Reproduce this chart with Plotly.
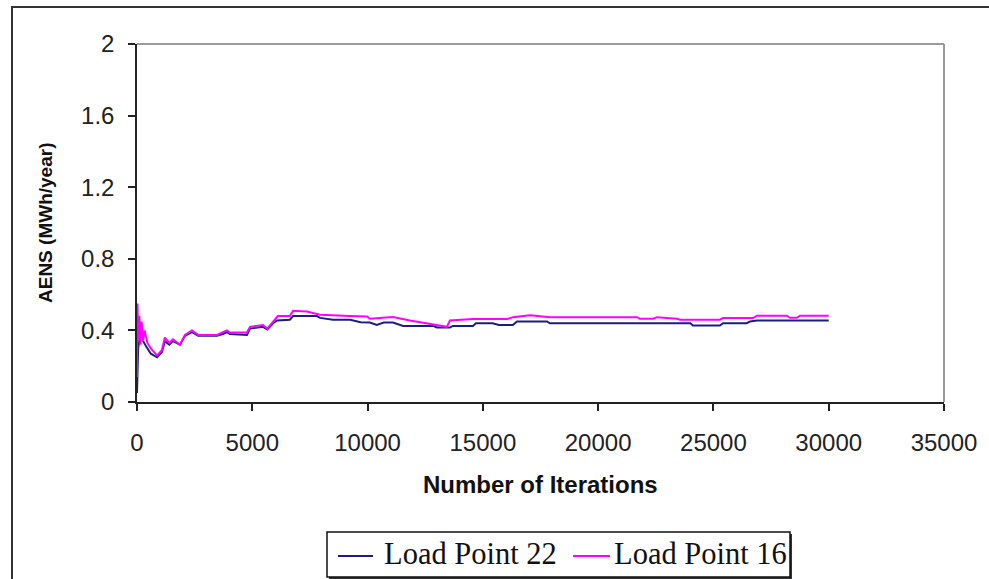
import plotly.graph_objects as go

# Load Point 22 (blue) - running AENS estimate vs number of iterations
lp22_iter = [0, 15, 50, 120, 220, 400, 600, 870, 1080, 1210, 1400, 1560, 1865, 2080, 2385,
             2650, 3470, 3730, 3900, 4030, 4770, 4900, 5460, 5650, 5900, 6070, 6630, 6770,
             7800, 7940, 8500, 9240, 9700, 10100, 10400, 10700, 11100, 11540, 12840, 13010,
             13570, 13700, 14570, 14700, 15420, 15700, 16300, 16480, 17780, 17910, 24000,
             24110, 25280, 25420, 26450, 26590, 26890, 30000]
lp22_aens = [0.05, 0.22, 0.30, 0.36, 0.35, 0.31, 0.27, 0.25, 0.28, 0.34, 0.32, 0.34, 0.32, 0.37,
             0.39, 0.37, 0.37, 0.38, 0.39, 0.38, 0.375, 0.41, 0.42, 0.405, 0.44, 0.455, 0.46,
             0.48, 0.48, 0.47, 0.46, 0.46, 0.446, 0.444, 0.43, 0.444, 0.444, 0.425, 0.425,
             0.416, 0.416, 0.425, 0.425, 0.44, 0.44, 0.43, 0.43, 0.45, 0.45, 0.44, 0.44,
             0.427, 0.427, 0.44, 0.44, 0.45, 0.455, 0.455]

# Load Point 16 (magenta)
lp16_iter = [0, 20, 60, 100, 150, 200, 260, 330, 450, 600, 870, 1080, 1210, 1400, 1560, 1865,
             2080, 2385, 2650, 3470, 3730, 3900, 4030, 4770, 4900, 5460, 5650, 5900, 6110,
             6630, 6770, 7370, 7940, 9240, 9980, 10100, 10840, 11100, 11840, 12620, 13440,
             13570, 14570, 16050, 16310, 17050, 17910, 21690, 21820, 22380, 22550, 23420,
             23550, 25280, 25420, 26720, 26890, 28190, 28320, 28620, 28750, 30000]
lp16_aens = [0.14, 0.55, 0.35, 0.48, 0.32, 0.45, 0.34, 0.40, 0.33, 0.30, 0.26, 0.29, 0.36, 0.33,
             0.35, 0.32, 0.375, 0.40, 0.375, 0.375, 0.39, 0.40, 0.388, 0.388, 0.42, 0.43, 0.41,
             0.45, 0.48, 0.48, 0.51, 0.505, 0.487, 0.48, 0.478, 0.465, 0.475, 0.475, 0.455,
             0.437, 0.42, 0.455, 0.463, 0.463, 0.474, 0.484, 0.474, 0.474, 0.465, 0.465,
             0.474, 0.465, 0.46, 0.46, 0.469, 0.469, 0.482, 0.482, 0.47, 0.47, 0.482, 0.482]

series_names = ["Load Point 22", "Load Point 16"]
series_colors = ["#1c1c86", "#ff00ff"]
x_ticks = [0, 5000, 10000, 15000, 20000, 25000, 30000, 35000]
x_ticklabels = ["0", "5000", "10000", "15000", "20000", "25000", "30000", "35000"]
y_ticks = [0, 0.4, 0.8, 1.2, 1.6, 2]
y_ticklabels = ["0", "0.4", "0.8", "1.2", "1.6", "2"]
x_title = "Number of Iterations"
y_title = "AENS (MWh/year)"

SANS = "Arial, Liberation Sans, sans-serif"
SERIF = "Times New Roman, Liberation Serif, serif"

fig = go.Figure()
fig.add_trace(go.Scatter(x=lp22_iter, y=lp22_aens, mode="lines", name=series_names[0],
                         line=dict(color=series_colors[0], width=2)))
fig.add_trace(go.Scatter(x=lp16_iter, y=lp16_aens, mode="lines", name=series_names[1],
                         line=dict(color=series_colors[1], width=2)))

L, R, T, B = 137, 944, 44, 402
W, H = 989, 579

def px_x(p):
    return (p - L) / (R - L)

def px_y(p):
    return (B - p) / (B - T)

# legend layout (boxed, below the x-axis title)
LG_X0, LG_X1, LG_Y0, LG_Y1 = 327, 790, 532, 577
key_spans = [(338, 373), (573, 610)]
label_x = [382, 612]
key_y = 556
label_y = 554

shapes = [
    # plot area border (top/right grey)
    dict(type="line", xref="paper", yref="paper", x0=0, x1=1, y0=1, y1=1,
         line=dict(color="#9a9a9a", width=2)),
    dict(type="line", xref="paper", yref="paper", x0=1, x1=1, y0=0, y1=1,
         line=dict(color="#9a9a9a", width=2)),
    # outer chart border (partially cropped)
    dict(type="rect", xref="paper", yref="paper", x0=px_x(12), x1=px_x(1010),
         y0=px_y(600), y1=px_y(7), line=dict(color="#333", width=2)),
    # legend shadow + box
    dict(type="rect", xref="paper", yref="paper", x0=px_x(LG_X0 + 2), x1=px_x(LG_X1 + 2),
         y0=px_y(LG_Y1 + 2), y1=px_y(LG_Y0 + 2), line=dict(width=0), fillcolor="#333"),
    dict(type="rect", xref="paper", yref="paper", x0=px_x(LG_X0), x1=px_x(LG_X1),
         y0=px_y(LG_Y1), y1=px_y(LG_Y0), line=dict(color="#111", width=1.5),
         fillcolor="white"),
]
annotations = [
    dict(text="<b>" + x_title + "</b>", xref="paper", yref="paper", x=0.5, y=px_y(484),
         xanchor="center", yanchor="middle", showarrow=False,
         font=dict(family=SANS, size=24, color="#111")),
    dict(text="<b>" + y_title + "</b>", xref="paper", yref="paper", x=px_x(45), y=0.5,
         xanchor="center", yanchor="middle", showarrow=False, textangle=-90,
         font=dict(family=SANS, size=19, color="#111")),
]
for name, color, (k0, k1), lx in zip(series_names, series_colors, key_spans, label_x):
    shapes.append(dict(type="line", xref="paper", yref="paper", x0=px_x(k0), x1=px_x(k1),
                       y0=px_y(key_y), y1=px_y(key_y), line=dict(color=color, width=2)))
    annotations.append(dict(text=name, xref="paper", yref="paper", x=px_x(lx), y=px_y(label_y),
                            xanchor="left", yanchor="middle", showarrow=False,
                            font=dict(family=SERIF, size=30.5, color="#111")))

fig.update_layout(
    width=W, height=H,
    margin=dict(l=L, r=W - R, t=T, b=H - B, pad=0, autoexpand=False),
    paper_bgcolor="white", plot_bgcolor="white",
    showlegend=False,
    xaxis=dict(range=[0, 35000], tickvals=x_ticks, ticktext=x_ticklabels, ticks="outside",
               ticklen=7, tickwidth=1.5, tickcolor="#222", showline=True, linecolor="#222",
               linewidth=1.5, showgrid=False, zeroline=False, ticklabelstandoff=11,
               automargin=False, tickfont=dict(family=SANS, size=24, color="#222")),
    yaxis=dict(range=[0, 2], tickvals=y_ticks, ticktext=y_ticklabels,
               ticks="outside", ticklen=7, tickwidth=1.5, tickcolor="#222",
               showline=True, linecolor="#222", linewidth=1.5, showgrid=False, zeroline=False,
               ticklabelstandoff=9, automargin=False,
               tickfont=dict(family=SANS, size=24, color="#222")),
    shapes=shapes,
    annotations=annotations,
)

fig.write_html("out.html", config={"displayModeBar": False},
               post_script="document.body.style.margin='0';document.body.style.overflow='hidden';")
